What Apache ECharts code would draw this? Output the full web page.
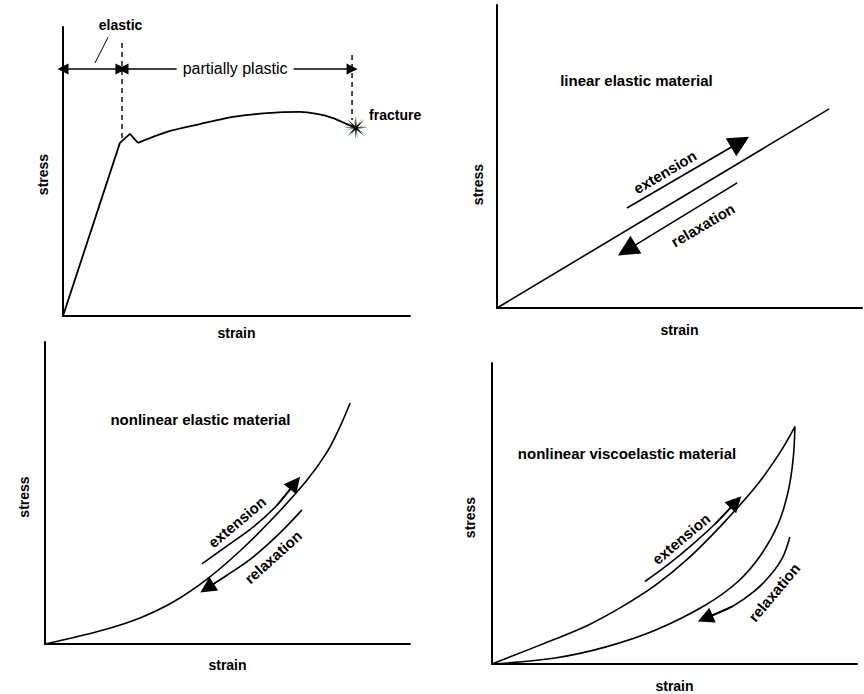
<!DOCTYPE html>
<html>
<head>
<meta charset="utf-8">
<title>Stress–strain behaviour of materials</title>
<script src="https://cdn.jsdelivr.net/npm/echarts@6/dist/echarts.min.js"></script>
<style>
  html, body { margin: 0; padding: 0; background: #fff; }
  #chart { width: 864px; height: 694px; }
</style>
</head>
<body>
<div id="chart"></div>
<script>
// ---- Panel A: tensile test up to fracture (strain, stress in % of axis range) ----
const loadElastic = [[0, 0], [16.4, 59.9], [19.3, 63.0], [21.6, 59.9]];
const loadPlastic = [[21.6, 59.9], [30.0, 63.7], [39.5, 66.4], [49.0, 68.9], [58.8, 70.2],
                     [68.3, 70.6], [73.2, 69.9], [77.8, 68.5], [81.8, 66.4], [84.4, 65.1]];
const yieldGuide = [[17.0, 94.5], [17.0, 60.9]];
const fractureGuide = [[83.3, 90.3], [83.3, 67.8]];
const elasticSpan = [[0, 85.5], [16.7, 85.5]];
const plasticSpan = [[17.3, 85.5], [83.3, 85.5]];
const elasticPointer = [[13.0, 96.5], [9.2, 87.5]];
const fracturePoint = [84.4, 65.1];

// ---- Panel B: linear elastic material ----
const linearCurve = [[0, 0], [91.0, 65.7]];
const linearExtension = [[35.6, 33.0], [66.6, 54.8]];
const linearRelaxation = [[65.8, 41.3], [35.6, 19.1]];

// ---- Panel C: nonlinear elastic material ----
const nonlinearCurve = [[0, 0], [17.0, 5.0], [26.0, 8.6], [35.1, 13.9], [44.4, 21.5], [53.4, 30.8],
                        [62.5, 41.7], [71.8, 54.3], [77.3, 63.6], [80.8, 71.9], [83.6, 79.8]];
const nonlinearExtension = [[43.0, 26.5], [49.9, 32.5], [57.0, 38.7], [63.6, 46.0], [68.5, 53.3]];
const nonlinearRelaxation = [[70.4, 44.4], [64.4, 36.8], [57.0, 28.8], [49.9, 22.8], [44.4, 18.5]];

// ---- Panel D: nonlinear viscoelastic material (hysteresis loop) ----
const viscoLoading = [[0, 0], [17.3, 8.3], [26.3, 12.9], [35.3, 18.8], [44.7, 26.1], [53.7, 35.0],
                      [62.7, 45.9], [72.1, 58.7], [78.4, 69.3], [83.0, 78.9]];
const viscoUnloading = [[83.0, 78.9], [82.5, 68.0], [81.1, 57.1], [78.4, 46.5], [73.7, 36.3],
                        [67.4, 27.4], [58.4, 19.5], [44.7, 11.2], [31.0, 5.6], [17.3, 2.0], [0, 0]];
const viscoExtension = [[41.9, 27.4], [48.2, 33.0], [54.8, 39.6], [61.1, 46.5], [66.8, 53.8]];
const viscoRelaxation = [[81.6, 42.2], [79.7, 35.6], [76.4, 29.7], [71.8, 24.1], [65.8, 19.1], [58.4, 15.2]];

// ---- Text ----
const xTitle = 'strain';
const yTitle = 'stress';
const panelTitles = ['linear elastic material', 'nonlinear elastic material', 'nonlinear viscoelastic material'];

const FONT = '"Liberation Sans", Arial, Helvetica, sans-serif';
const INK = '#000';

const grids = [
  { left: 63,  top: 27,  width: 347, height: 289 },
  { left: 497, top: 5,   width: 365, height: 303 },
  { left: 45,  top: 342, width: 365, height: 302 },
  { left: 492, top: 363, width: 365, height: 303 }
];
const xNameGap = [10, 15, 14, 15];
const yNameGap = [13, 12, 14, 15];
const yNamePad = [[0, 6, 0, 0], [0, 56, 0, 0], [0, 8, 0, 0], [0, 8, 0, 0]];

const axisLine = { show: true, onZero: false, lineStyle: { color: INK, width: 2 } };
const nameStyle = { fontFamily: FONT, fontSize: 14, fontWeight: 'bold', color: INK };

const xAxes = grids.map((g, i) => ({
  gridIndex: i, type: 'value', min: 0, max: 100,
  name: xTitle, nameLocation: 'middle', nameGap: xNameGap[i], nameTextStyle: nameStyle,
  axisLine, axisTick: { show: false }, axisLabel: { show: false }, splitLine: { show: false }
}));
const yAxes = grids.map((g, i) => ({
  gridIndex: i, type: 'value', min: 0, max: 100,
  name: yTitle, nameLocation: 'middle', nameGap: yNameGap[i],
  nameTextStyle: Object.assign({}, nameStyle, { padding: yNamePad[i] }),
  axisLine, axisTick: { show: false }, axisLabel: { show: false }, splitLine: { show: false }
}));

function curve(i, data, width, smooth, dash) {
  return {
    type: 'line', xAxisIndex: i, yAxisIndex: i, data,
    symbol: 'none', showSymbol: false, smooth: smooth || false, clip: false, silent: true,
    lineStyle: { color: INK, width: width, type: dash || 'solid', opacity: 1 }
  };
}
function straightArrow(i, pts, size, both, width) {
  return {
    type: 'lines', coordinateSystem: 'cartesian2d', xAxisIndex: i, yAxisIndex: i, clip: false, silent: true,
    symbol: both ? ['triangle', 'triangle'] : ['none', 'triangle'], symbolSize: size,
    lineStyle: { color: INK, width: width, opacity: 1 },
    data: [{ coords: pts }]
  };
}
function curvedArrow(i, pts, size, width) {
  const n = pts.length;
  return [
    curve(i, pts, width, 0.35),
    straightArrow(i, [pts[n - 2], pts[n - 1]], size, false, width)
  ];
}
function label(i, pos, text, opt) {
  return {
    type: 'scatter', xAxisIndex: i, yAxisIndex: i, data: [pos], symbolSize: 0, clip: false, silent: true,
    itemStyle: { opacity: 1, color: INK },
    label: Object.assign({
      show: true, formatter: text, position: 'inside', color: INK, fontFamily: FONT,
      fontSize: 15, fontWeight: 'bold', align: 'center', verticalAlign: 'middle',
      textBorderWidth: 0, opacity: 1
    }, opt || {})
  };
}
function starPath(points, inner) {
  let d = '';
  for (let k = 0; k < points * 2; k++) {
    const r = k % 2 ? inner : 1;
    const a = k * Math.PI / points - Math.PI / 2;
    d += (k ? 'L' : 'M') + (50 + 50 * r * Math.cos(a)).toFixed(2) + ' ' + (50 + 50 * r * Math.sin(a)).toFixed(2);
  }
  return 'path://' + d + 'Z';
}

const series = [
  // Panel A
  curve(0, loadElastic, 1.8, false),
  curve(0, loadPlastic, 1.8, 0.3),
  curve(0, yieldGuide, 1.4, false, [5, 4]),
  curve(0, fractureGuide, 1.4, false, [5, 4]),
  straightArrow(0, elasticSpan, 11, true, 1.6),
  straightArrow(0, plasticSpan, 11, true, 1.6),
  curve(0, elasticPointer, 1, false),
  label(0, [elasticSpan[1][0] - 0.1, 100.7], 'elastic', { fontSize: 14 }),
  label(0, [49.6, 85.5], 'partially plastic', { fontSize: 16, fontWeight: 'normal', backgroundColor: '#fff', padding: [0, 6] }),
  {
    type: 'scatter', xAxisIndex: 0, yAxisIndex: 0, data: [fracturePoint], clip: false, silent: true,
    symbol: starPath(8, 0.1), symbolSize: 25, symbolRotate: 12, itemStyle: { color: '#3d9b3d', opacity: 1 }
  },
  {
    type: 'scatter', xAxisIndex: 0, yAxisIndex: 0, data: [fracturePoint], clip: false, silent: true,
    symbol: starPath(8, 0.16), symbolSize: 24, itemStyle: { color: INK, opacity: 1 }
  },
  label(0, [88.2, 69.6], 'fracture', { fontSize: 14, align: 'left' }),

  // Panel B
  curve(1, linearCurve, 1.6, false),
  straightArrow(1, linearExtension, 21, false, 1.6),
  straightArrow(1, linearRelaxation, 21, false, 1.6),
  label(1, [38.2, 75.2], panelTitles[0]),
  label(1, [46.0, 44.9], 'extension', { rotate: 30.5 }),
  label(1, [56.4, 27.4], 'relaxation', { rotate: 30.5 }),

  // Panel C
  curve(2, nonlinearCurve, 1.6, 0.35),
  ...curvedArrow(2, nonlinearExtension, 16, 1.6),
  ...curvedArrow(2, nonlinearRelaxation, 16, 1.6),
  label(2, [42.6, 74.5], panelTitles[1]),
  label(2, [52.6, 40.4], 'extension', { rotate: 40 }),
  label(2, [62.5, 28.8], 'relaxation', { rotate: 42 }),

  // Panel D
  curve(3, viscoLoading, 1.6, 0.35),
  curve(3, viscoUnloading, 1.6, 0.35),
  ...curvedArrow(3, viscoExtension, 16, 1.6),
  ...curvedArrow(3, viscoRelaxation, 16, 1.6),
  label(3, [37.0, 70.0], panelTitles[2]),
  label(3, [51.8, 41.6], 'extension', { rotate: 40 }),
  label(3, [77.3, 23.8], 'relaxation', { rotate: 50 })
];

const chart = echarts.init(document.getElementById('chart'), null, { renderer: 'svg' });
chart.setOption({
  animation: false,
  backgroundColor: '#fff',
  grid: grids,
  xAxis: xAxes,
  yAxis: yAxes,
  series: series
});
</script>
</body>
</html>
